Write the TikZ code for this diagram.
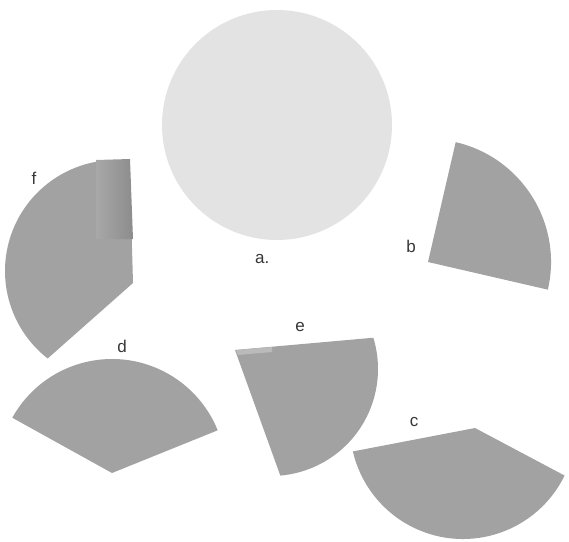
\documentclass[tikz,border=0pt]{standalone}
\usepackage{fontspec}
\setmainfont{Liberation Sans}
\usetikzlibrary{calc}
\definecolor{disc}{RGB}{227,227,227}
\definecolor{piece}{RGB}{162,162,162}
\definecolor{strip}{RGB}{186,186,186}
\definecolor{bandL}{RGB}{168,168,168}
\definecolor{bandR}{RGB}{140,140,140}
\definecolor{ink}{RGB}{55,55,55}
\begin{document}
\begin{tikzpicture}[x=1pt,y=-1pt,
  lbl/.style={font=\fontsize{17}{17}\selectfont, text=ink, inner sep=0pt},
  piecefill/.style={fill=piece, draw=none}]
\useasboundingbox (0,0) rectangle (569,541);
% disc a
\fill[disc] (277,125) circle[radius=115];
% piece b
\fill[piecefill] (428,262) -- ($(428,262)+(-77:123)$) arc[start angle=-77,end angle=13,radius=123] -- cycle;
% piece f
\fill[piecefill] (133,283) -- ($(116,271)+(-83:111)$) arc[start angle=-83,end angle=-232,radius=111] -- cycle;
\shade[left color=bandL, right color=bandR] (96,160) -- (130,159) -- (133,239) -- (96,239) -- cycle;
% piece d
\fill[piecefill] (112,473) -- ($(112,473)+(-151:114)$) arc[start angle=-151,end angle=-22,radius=114] -- cycle;
% piece e
\fill[piecefill] (235,350) -- ($(271,369)+(-17:107)$) arc[start angle=-17,end angle=85,radius=107] -- cycle;
\fill[strip] (236,350) -- (272,347) -- (272,352) -- (238,355) -- cycle;
% piece c
\fill[piecefill] (475,428) -- ($(463,426)+(26:113)$) arc[start angle=26,end angle=167,radius=113] -- cycle;
% labels
\node[lbl, anchor=base west] (la) at (255,263) {a.};
\node[lbl] (lb) at (411,246) {b};
\node[lbl] (lc) at (414,422) {c};
\node[lbl] (ld) at (122,346) {d};
\node[lbl] (le) at (300,327) {e};
\node[lbl] (lf) at (34,178) {f};
\end{tikzpicture}
\end{document}
